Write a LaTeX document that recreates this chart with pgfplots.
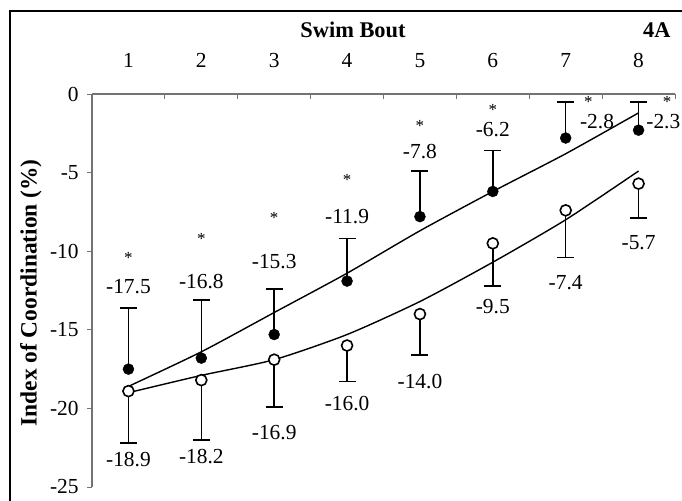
\documentclass[border=0pt]{standalone}
\usepackage{pgfplots}
\pgfplotsset{compat=1.18}
\usepackage{fontspec}
\setmainfont{Liberation Serif}

% bout-by-bout means (filled = upper series, open = lower series)
\pgfplotstableread{
x y e
1 -17.5 3.9
2 -16.8 3.7
3 -15.3 2.9
4 -11.9 2.7
5 -7.8 2.9
6 -6.2 2.6
7 -2.8 2.3
8 -2.3 1.8
}\filled
\pgfplotstableread{
x y e
1 -18.9 3.3
2 -18.2 3.8
3 -16.9 3.0
4 -16.0 2.3
5 -14.0 2.6
6 -9.5 2.7
7 -7.4 3.0
8 -5.7 2.2
}\open

\begin{document}
\begin{tikzpicture}
\fontsize{21.5}{25}\selectfont
\begin{axis}[
	scale only axis,
	width=583bp,
	height=393bp,
	xmin=0.5, xmax=8.5,
	ymin=-25, ymax=0,
	axis x line*=top,
	axis y line*=left,
	axis line style={draw=black!55, line width=1.2bp, -},
	xtick={1,...,8},
	major x tick style={draw=none},
	minor xtick={1.5,2.5,...,8.5},
	minor x tick style={draw=black!55, line width=1bp},
	ytick={-25,-20,...,0},
	major y tick style={draw=black!55, line width=1bp, xshift=-5bp},
	tick align=inside,
	major tick length=5bp,
	minor tick length=5bp,
	xticklabel style={yshift=19bp},
	yticklabel style={xshift=-6bp},
	/pgf/number format/assume math mode=true,
	tick label style={font=\fontsize{21.5}{25}\selectfont},
	xlabel={\textbf{Swim Bout}},
	every axis x label/.style={at={(rel axis cs:0.4477,1.1628)}, anchor=center, font=\fontsize{22.5}{26}\selectfont},
	ylabel={\textbf{Index of Coordination (\%)}},
	every axis y label/.style={at={(rel axis cs:-0.105,0.494)}, rotate=90, anchor=center, font=\fontsize{23.5}{27}\selectfont},
	clip=false,
]

% trend lines
\addplot[black, line width=1.4bp, smooth, tension=0.4] coordinates {
	(1,-18.6) (2,-16.4) (3,-13.9) (4,-11.4) (5,-8.7) (6,-6.2) (7,-3.8) (8,-1.2)};
\addplot[black, line width=1.4bp, smooth, tension=0.4] coordinates {
	(1,-19.0) (2,-17.9) (3,-16.9) (4,-15.3) (5,-13.2) (6,-10.7) (7,-8.0) (8,-4.9)};

% filled series, error bars upwards
\addplot[only marks, mark=*, mark size=5.5bp, black,
	error bars/.cd, y dir=plus, y explicit,
	error bar style={line width=1.6bp},
	error mark options={rotate=90, mark size=8.5bp, line width=1.6bp}]
	table[x=x, y=y, y error=e] {\filled};

% open series, error bars downwards
\addplot[only marks, mark=*, mark size=5.5bp, mark options={fill=white, draw=black, line width=1.6bp}, black,
	error bars/.cd, y dir=minus, y explicit,
	error bar style={line width=1.6bp},
	error mark options={rotate=90, mark size=8.5bp, line width=1.6bp}]
	table[x=x, y=y, y error=e] {\open};

% value labels, filled
\begin{scope}[every node/.style={inner sep=1pt}]
\node at (axis cs:1,-12.28) {-17.5};
\node at (axis cs:2,-11.96) {-16.8};
\node at (axis cs:3,-10.69) {-15.3};
\node at (axis cs:4,-7.82) {-11.9};
\node at (axis cs:5,-3.69) {-7.8};
\node at (axis cs:6,-2.29) {-6.2};
\node at (axis cs:7.43,-1.78) {-2.8};
\node at (axis cs:8.34,-1.78) {-2.3};
\end{scope}

% significance marks
\begin{scope}[every node/.style={font=\fontsize{17}{20}\selectfont, inner sep=0pt}]
\node at (axis cs:1,-10.45) {*};
\node at (axis cs:2,-9.25) {*};
\node at (axis cs:3,-7.9) {*};
\node at (axis cs:4,-5.45) {*};
\node at (axis cs:5,-2.05) {*};
\node at (axis cs:6,-1.0) {*};
\node at (axis cs:7.31,-0.5) {*};
\node at (axis cs:8.39,-0.5) {*};
\end{scope}

% value labels, open
\node at (axis cs:1,-23.28) {-18.9};
\node at (axis cs:2,-23.09) {-18.2};
\node at (axis cs:3,-21.56) {-16.9};
\node at (axis cs:4,-19.66) {-16.0};
\node at (axis cs:5,-18.32) {-14.0};
\node at (axis cs:6,-13.49) {-9.5};
\node at (axis cs:7,-12.02) {-7.4};
\node at (axis cs:8,-9.48) {-5.7};

\node[font=\fontsize{22.5}{26}\selectfont] at (rel axis cs:0.969,1.1628) {\textbf{4A}};

% chart frame
\draw[black, line width=1.4bp] (rel axis cs:-0.1407,-0.1) -- (rel axis cs:-0.1407,1.2112) -- (rel axis cs:1.1,1.2112);

\coordinate (bbll) at (rel axis cs:-0.1578,-0.0331);
\coordinate (bbur) at (rel axis cs:1.0120,1.2392);
\end{axis}
\pgfresetboundingbox
\useasboundingbox (bbll) rectangle (bbur);
\end{tikzpicture}
\end{document}
